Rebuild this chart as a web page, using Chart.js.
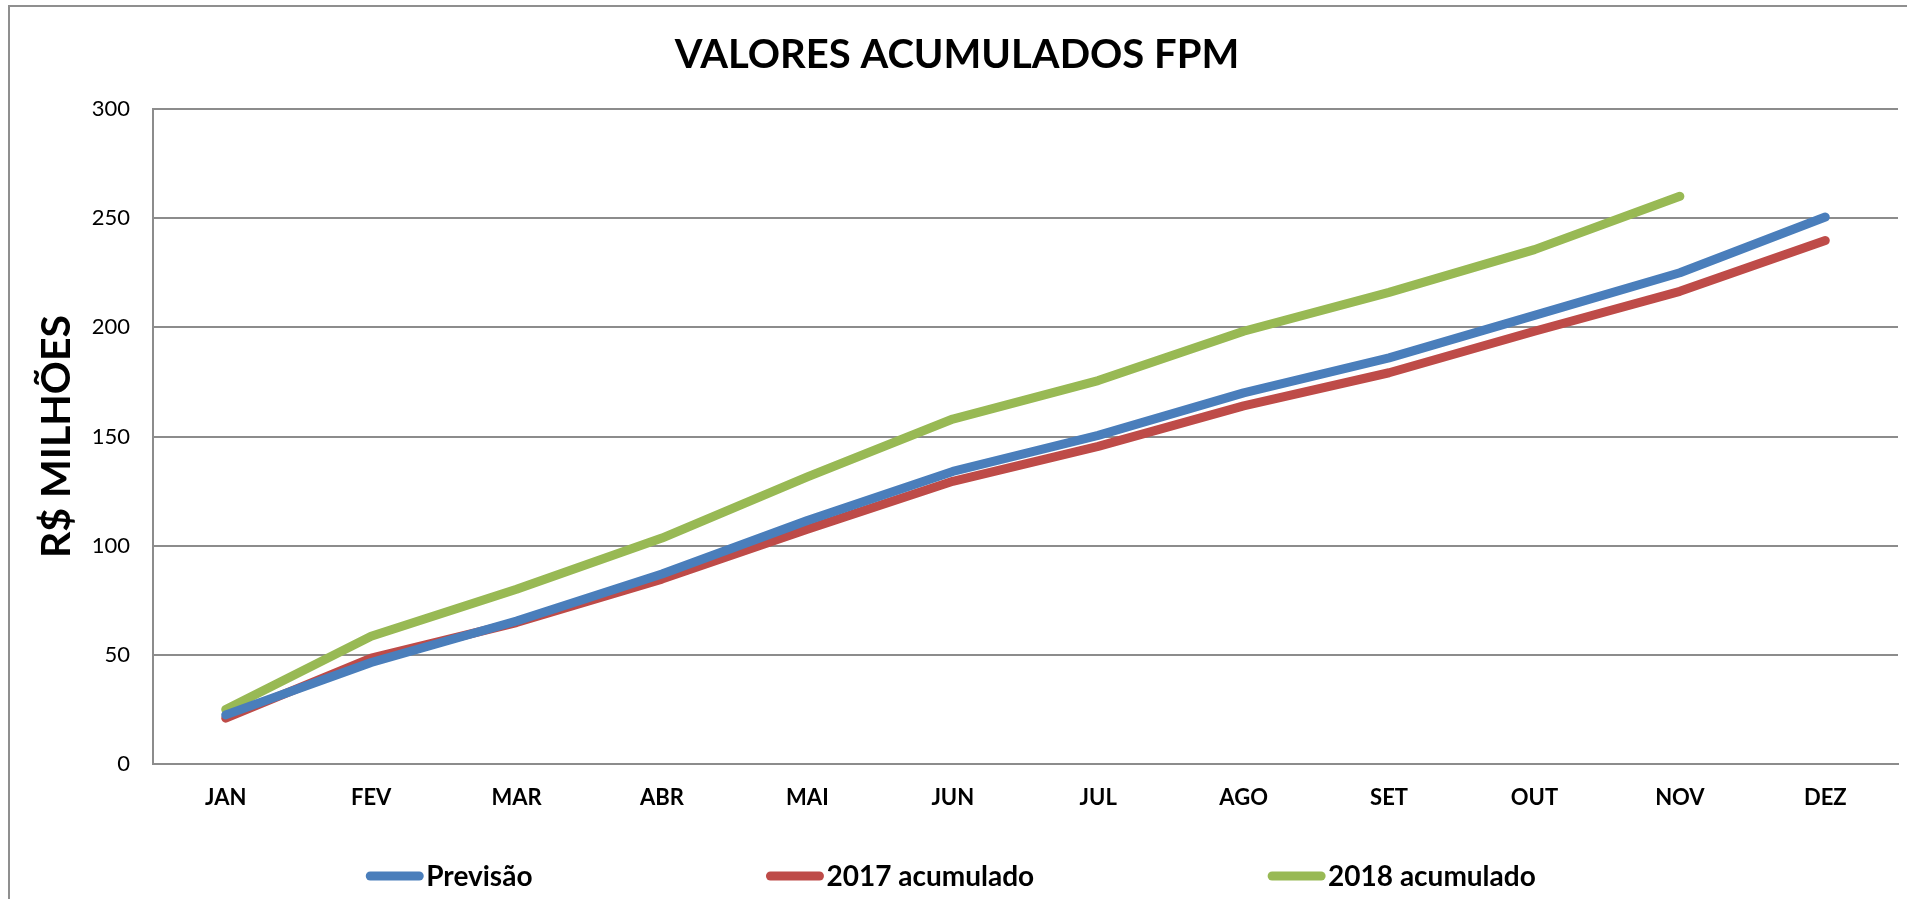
<!DOCTYPE html>
<html>
<head>
<meta charset="utf-8">
<script src="https://cdn.jsdelivr.net/npm/chart.js@4/dist/chart.umd.min.js"></script>
<style>
  body { margin: 0; background: #fff; overflow: hidden; }
  #frame { position: absolute; left: 8px; top: 5px; width: 1960px; height: 960px; border: 2px solid #8f8f8f; }
  #wrap { position: absolute; left: 0; top: 0; width: 1907px; height: 899px; }
</style>
</head>
<body>
<div id="frame"></div>
<div id="wrap"><canvas id="fpmChart"></canvas></div>
<script>
const months = ['JAN', 'FEV', 'MAR', 'ABR', 'MAI', 'JUN', 'JUL', 'AGO', 'SET', 'OUT', 'NOV', 'DEZ'];
const previsao = [22.5, 46.5, 65.5, 87, 111.5, 134, 150.5, 170, 186, 205.5, 225, 250.5];
const acum2017 = [21, 48.5, 64.8, 84.7, 107.5, 129.5, 145.5, 164, 179.2, 198.2, 216.5, 239.8];
const acum2018 = [25, 58.5, 80, 103.5, 131.5, 158, 175.6, 198.2, 216, 235.6, 260, null];
const yTicks = [0, 50, 100, 150, 200, 250, 300];

const fontFamily = 'Lato, "Open Sans", sans-serif';
const gridColor = '#8c8c8c';

// legend drawn by hand so the items can sit far apart like the original
const spacedLegend = {
  id: 'spacedLegend',
  afterDraw(chart) {
    const ctx = chart.ctx;
    const sets = chart.data.datasets;
    const boxW = 57, gap = 234, textGap = 3, centerX = 951, y = 876;
    ctx.save();
    ctx.font = 'bold 28px ' + fontFamily;
    ctx.textBaseline = 'middle';
    ctx.textAlign = 'left';
    let widths = sets.map((d) => boxW + textGap + ctx.measureText(d.label).width);
    let total = widths.reduce((a, b) => a + b, 0) + gap * (sets.length - 1);
    let x = centerX - total / 2;
    sets.forEach((d, i) => {
      ctx.strokeStyle = d.borderColor;
      ctx.lineWidth = 9;
      ctx.lineCap = 'round';
      ctx.beginPath();
      ctx.moveTo(x + 4, y);
      ctx.lineTo(x + boxW - 4, y);
      ctx.stroke();
      ctx.fillStyle = '#000';
      ctx.fillText(d.label, x + boxW + textGap, y + 1);
      x += widths[i] + gap;
    });
    ctx.restore();
  },
};

const chartEl = document.getElementById('fpmChart');
new Chart(chartEl, {
  type: 'line',
  data: {
    labels: months,
    datasets: [
      {
        label: 'Previsão',
        data: previsao,
        borderColor: '#4a7ebb',
        backgroundColor: '#4a7ebb',
      },
      {
        label: '2017 acumulado',
        data: acum2017,
        borderColor: '#be4b48',
        backgroundColor: '#be4b48',
      },
      {
        label: '2018 acumulado',
        data: acum2018,
        borderColor: '#98b954',
        backgroundColor: '#98b954',
      },
    ],
  },
  options: {
    responsive: true,
    maintainAspectRatio: false,
    animation: false,
    layout: {
      padding: { left: 16, right: 9, top: 0, bottom: 0 },
    },
    elements: {
      line: {
        borderWidth: 9,
        tension: 0,
        borderCapStyle: 'round',
        borderJoinStyle: 'round',
      },
      point: { radius: 0, hoverRadius: 0 },
    },
    plugins: {
      legend: { display: false },
      tooltip: { enabled: false },
      title: {
        display: true,
        text: 'VALORES ACUMULADOS FPM',
        color: '#000',
        font: { family: fontFamily, size: 40, weight: 'bold' },
        padding: { top: 31, bottom: 30 },
      },
    },
    scales: {
      x: {
        offset: true,
        grid: { display: false, drawTicks: false },
        border: { display: true, color: gridColor, width: 2 },
        ticks: {
          color: '#000',
          padding: 21,
          font: { family: fontFamily, size: 22, weight: 'bold' },
          maxRotation: 0,
        },
        afterFit: (scale) => {
          scale.height = 135;
        },
      },
      y: {
        min: 0,
        max: 300,
        afterBuildTicks: (scale) => {
          scale.ticks = yTicks.map((v) => ({ value: v }));
        },
        grid: { color: gridColor, lineWidth: 2, drawTicks: false },
        border: { display: true, color: gridColor, width: 2 },
        ticks: {
          color: '#000',
          padding: 23,
          font: { family: fontFamily, size: 22 },
        },
        title: {
          display: true,
          text: 'R$ MILHÕES',
          color: '#000',
          font: { family: fontFamily, size: 41, weight: 'bold' },
          padding: { top: 16, bottom: 0 },
        },
        afterFit: (scale) => {
          scale.width = 137;
        },
      },
    },
  },
  plugins: [spacedLegend],
});
</script>
</body>
</html>
